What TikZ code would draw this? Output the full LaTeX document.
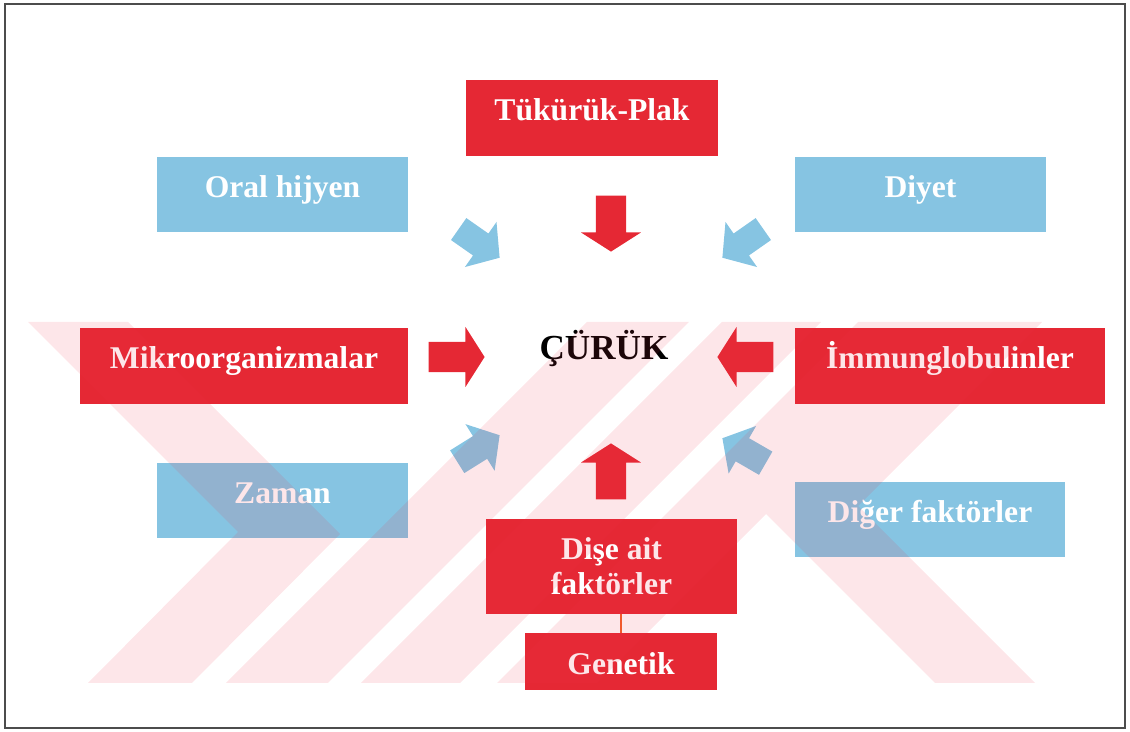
\documentclass[tikz,border=0pt]{standalone}
\usepackage{fontspec}
\setmainfont{Liberation Serif}
\usetikzlibrary{shapes.arrows}
\definecolor{kirmizi}{RGB}{229,40,52}
\definecolor{mavi}{RGB}{134,196,226}
\definecolor{pembe}{RGB}{240,50,75}
\definecolor{turuncu}{RGB}{240,95,40}

\begin{document}
\begin{tikzpicture}[x=0.02cm,y=-0.02cm,
    kutu/.style={inner sep=0pt, text=white, font=\bfseries\fontsize{18}{20}\selectfont, align=center},
    tek/.style={kutu, text height=0.42cm, text depth=0.30cm},
    kutuK/.style={tek, fill=kirmizi},
    kutuM/.style={tek, fill=mavi},
    okK/.style={single arrow, fill=kirmizi, inner xsep=0pt, inner ysep=0.28cm, minimum height=1.12cm, minimum width=1.2cm,
        single arrow head extend=0.28cm, single arrow tip angle=115, anchor=tip},
    okM/.style={single arrow, fill=mavi, inner xsep=0pt, inner ysep=0.24cm, minimum height=1cm, minimum width=1.1cm,
        single arrow head extend=0.26cm, single arrow tip angle=100, anchor=tip}]
    \useasboundingbox (0,0) rectangle (1130,732);
    \draw[gray!60!black, line width=0.8pt] (5,4) rectangle (1125,728);

    \node[kutuK, minimum width=5.04cm, minimum height=1.52cm] (tukuruk) at (592,118) {Tükürük-Plak};
    \node[kutuM, minimum width=5.02cm, minimum height=1.5cm] (oral) at (282.5,194.5) {Oral hijyen};
    \node[kutuM, minimum width=5.02cm, minimum height=1.5cm] (diyet) at (920.5,194.5) {Diyet};
    \node[kutuK, minimum width=6.56cm, minimum height=1.52cm] (mikro) at (244,366) {Mikroorganizmalar};
    \node[kutuK, minimum width=6.2cm, minimum height=1.52cm] (immun) at (950,366) {İmmunglobulinler};
    \node[kutuM, minimum width=5.02cm, minimum height=1.5cm] (zaman) at (282.5,500.5) {Zaman};
    \node[kutuM, minimum width=5.4cm, minimum height=1.5cm] (diger) at (930,519.5) {Diğer faktörler};
    \node[kutu, fill=kirmizi, minimum width=5.02cm, minimum height=1.9cm] (dise) at (611.5,566.5) {Dişe ait\\faktörler};
    \node[kutuK, text height=0.52cm, text depth=0pt, minimum width=3.84cm, minimum height=1.14cm] (genetik) at (621,661.5) {Genetik};
    \node[font=\bfseries\fontsize{20}{24}\selectfont, anchor=base] (curuk) at (604,360) {ÇÜRÜK};

    \draw[turuncu, line width=1.6pt] (genetik.north) -- (genetik.north |- dise.south);

    \node[okK, rotate=-90] (okUst) at (611,252) {};
    \node[okK, rotate=90] (okAlt) at (611,443) {};
    \node[okK, rotate=0] (okSol) at (485,357) {};
    \node[okK, rotate=180] (okSag) at (717,357) {};
    \node[okM, rotate=-35] (okOral) at (500,258) {};
    \node[okM, rotate=-145] (okDiyet) at (722,258) {};
    \node[okM, rotate=32] (okZaman) at (500,435) {};
    \node[okM, rotate=150] (okDiger) at (722,438) {};

    \begin{scope}
        \clip (28,322) rectangle (1042,683);
        \fill[pembe, opacity=0.12]
            (28,322) -- (128,322) -- (340,534) -- (192,683) -- (88,683) -- (238,532) -- cycle
            (587,322) -- (689,322) -- (328,683) -- (226,683) -- cycle
            (722,322) -- (821,322) -- (460,683) -- (361,683) -- cycle
            (858,322) -- (958,322) -- (597,683) -- (497,683) -- cycle
            (940,322) -- (1042,322) -- (858,506) -- (1035,683) -- (935,683) -- (757,505) -- cycle;
    \end{scope}
\end{tikzpicture}
\end{document}
